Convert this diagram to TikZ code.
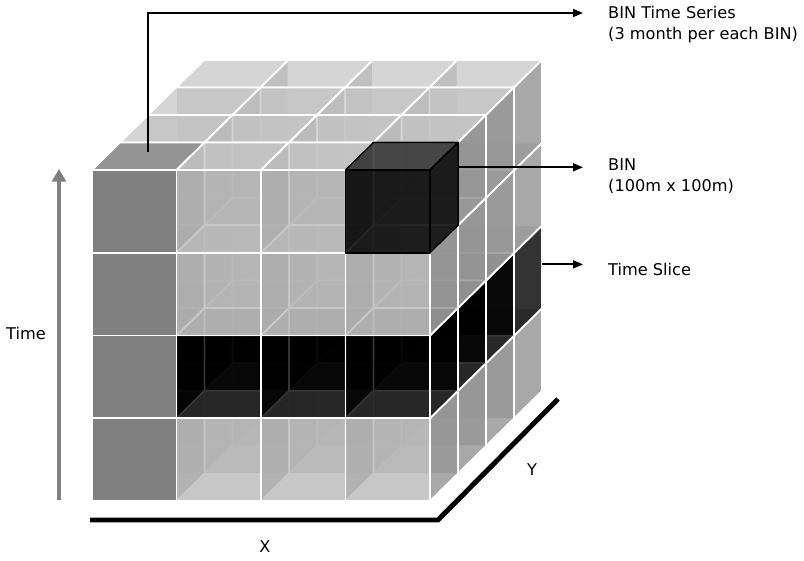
\documentclass[tikz,border=0pt]{standalone}
\usepackage{fontspec}
\setmainfont{DejaVu Sans}
\usetikzlibrary{arrows.meta}
\definecolor{cbFace}{RGB}{182,182,182}
\definecolor{cbLid}{RGB}{200,200,200}
\definecolor{cbWall}{RGB}{140,140,140}
\definecolor{bsGray}{RGB}{128,128,128}
\definecolor{bsLid}{RGB}{148,148,148}
\definecolor{tmGray}{RGB}{128,128,128}
\tikzset{
  cbEdge/.style={draw=white, line width=1.5pt, line join=round},
  cbFront/.style={cbEdge, fill=cbFace, fill opacity=0.76},
  cbTop/.style={cbEdge, fill=cbLid, fill opacity=0.76},
  cbSide/.style={cbEdge, fill=cbWall, fill opacity=0.76},
  tsFront/.style={cbEdge, fill=black, fill opacity=0.8},
  tsSide/.style={cbEdge, fill=black, fill opacity=0.8},
  bsFront/.style={cbEdge, fill=bsGray},
  bsTop/.style={cbEdge, fill=bsLid},
  binFront/.style={draw=black, line width=1.3pt, line join=round, fill=black, fill opacity=0.85},
  binTop/.style={binFront, fill=black!80},
  binSide/.style={binFront},
  lblArrow/.style={-{Triangle[length=0.3cm, width=0.24cm]}, line width=1.6pt},
  axLine/.style={line width=4.2pt, line join=miter},
  tmArrow/.style={-{Triangle[length=0.38cm, width=0.42cm]}, line width=4.2pt, draw=tmGray},
  lbl/.style={font=\fontsize{13.8}{18}\selectfont, align=left, inner sep=0pt}
}

\begin{document}
\begin{tikzpicture}[x=0.03cm, y=-0.03cm]
  \useasboundingbox (0,0) rectangle (804,561);

  % 4 x 4 x 4 bins, drawn from the back
  \begin{scope}[shift={(92,501)}, x={(2.535cm,0cm)}, y={(0cm,2.4825cm)}, z={(0.84cm,0.825cm)}]
    \foreach \d in {3,2,1,0}{
      \foreach \j in {0,1,2,3}{
        \foreach \i in {0,1,2,3}{
          \def\fst{cbFront}\def\tst{cbTop}\def\sst{cbSide}
          \ifnum\j=1 \def\fst{tsFront}\def\sst{tsSide}\fi
          \ifnum\i=0 \ifnum\d=0 \def\fst{bsFront}\def\tst{bsTop}\fi\fi
          \ifnum\i=3 \ifnum\j=3 \ifnum\d=0 \def\fst{binFront}\def\tst{binTop}\def\sst{binSide}\fi\fi\fi
          \draw[\tst] (\i,\j+1,\d) -- ++(1,0,0) -- ++(0,0,1) -- ++(-1,0,0) -- cycle;
          \draw[\sst] (\i+1,\j,\d) -- ++(0,0,1) -- ++(0,1,0) -- ++(0,0,-1) -- cycle;
          \draw[\fst] (\i,\j,\d) -- ++(1,0,0) -- ++(0,1,0) -- ++(-1,0,0) -- cycle;
        }
      }
    }
    \coordinate (seriesTip) at (0.45,4,0.65);
    \coordinate (binTip) at (4,3.7,1);
    \coordinate (sliceTip) at (4,1.53,4);
  \end{scope}

  % labels
  \node[lbl, anchor=north west] (seriesLbl) at (608,6) {BIN Time Series\\(3 month per each BIN)};
  \node[lbl, anchor=north west] (binLbl) at (608,158) {BIN\\(100m x 100m)};
  \node[lbl, anchor=west] (sliceLbl) at (608,269) {Time Slice};
  \node[lbl] (timeLbl) at (26,333) {Time};
  \node[lbl] (xLbl) at (265,547) {X};
  \node[lbl] (yLbl) at (532,470) {Y};

  \coordinate (seriesEnd) at (583,13);
  \coordinate (binEnd) at (583,167);
  \coordinate (sliceEnd) at (583,264);
  \draw[lblArrow] (seriesTip) |- (seriesEnd);
  \draw[lblArrow] (binTip) -- (binTip -| binEnd);
  \draw[lblArrow] (sliceTip) -- (sliceTip -| sliceEnd);

  % axes
  \coordinate (axO) at (90,520);
  \coordinate (axX) at (438,520);
  \coordinate (axY) at (558,399);
  \draw[axLine] (axO) -- (axX) -- (axY);
  \coordinate (tmBase) at (59,500);
  \coordinate (tmTop) at (59,169);
  \draw[tmArrow] (tmBase) -- (tmTop);
\end{tikzpicture}
\end{document}
